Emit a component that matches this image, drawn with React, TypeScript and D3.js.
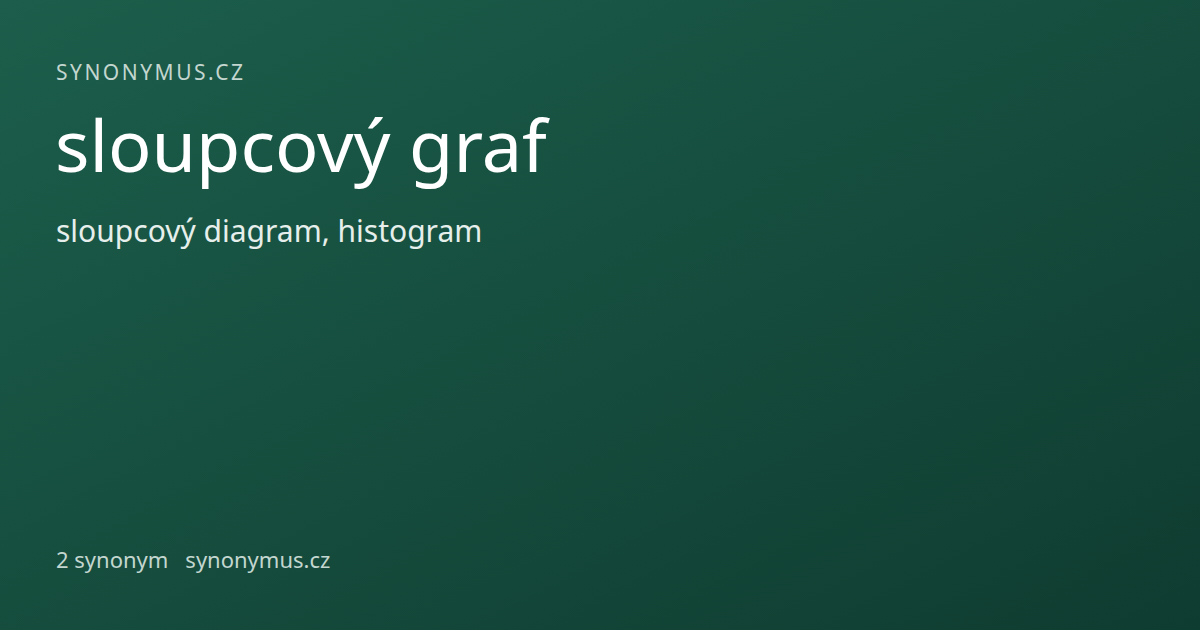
import { useEffect, useRef } from 'react'
import * as d3 from 'd3'

const siteLabel = 'SYNONYMUS.CZ'
const headword = 'sloupcový graf'
const synonyms = ['sloupcový diagram', 'histogram']
const footerItems = [`${synonyms.length} synonym`, 'synonymus.cz']
const gradientStops = ['#1c5e4b', '#0f3c30']

export default function App() {
  const svgRef = useRef<SVGSVGElement>(null)

  useEffect(() => {
    if (!svgRef.current) return
    const width = 1200
    const height = 630
    const svg = d3.select(svgRef.current)
    svg.selectAll('*').remove()
    svg.attr('width', width).attr('height', height)

    // diagonal background gradient
    const defs = svg.append('defs')
    const grad = defs
      .append('linearGradient')
      .attr('id', 'bg')
      .attr('x1', '0%')
      .attr('y1', '0%')
      .attr('x2', '100%')
      .attr('y2', '100%')
    grad.selectAll('stop')
      .data(gradientStops)
      .enter()
      .append('stop')
      .attr('offset', (_, i) => `${i * 100}%`)
      .attr('stop-color', d => d)

    svg.append('rect')
      .attr('width', width)
      .attr('height', height)
      .attr('fill', 'url(#bg)')

    const font = '"Noto Sans", "Open Sans", sans-serif'
    const left = 56

    svg.append('text')
      .attr('x', left)
      .attr('y', 80)
      .attr('font-family', font)
      .attr('font-size', 21)
      .attr('letter-spacing', 2.5)
      .attr('fill', '#c3d6cf')
      .text(siteLabel)

    svg.append('text')
      .attr('x', left - 1)
      .attr('y', 172)
      .attr('font-family', font)
      .attr('font-size', 72)
      .attr('fill', '#ffffff')
      .text(headword)

    svg.append('text')
      .attr('x', left)
      .attr('y', 242)
      .attr('font-family', font)
      .attr('font-size', 30)
      .attr('fill', '#e6efeb')
      .text(synonyms.join(', '))

    const footer = svg.append('text')
      .attr('x', left)
      .attr('y', 568)
      .attr('font-family', font)
      .attr('font-size', 22)
      .attr('fill', '#c3d6cf')
    footer.selectAll('tspan')
      .data(footerItems)
      .enter()
      .append('tspan')
      .attr('dx', (_, i) => (i === 0 ? 0 : 17))
      .text(d => d)
  }, [])

  return (
    <div style={{ position: 'fixed', left: 0, top: 0 }}>
      <svg ref={svgRef} style={{ display: 'block' }} />
    </div>
  )
}
